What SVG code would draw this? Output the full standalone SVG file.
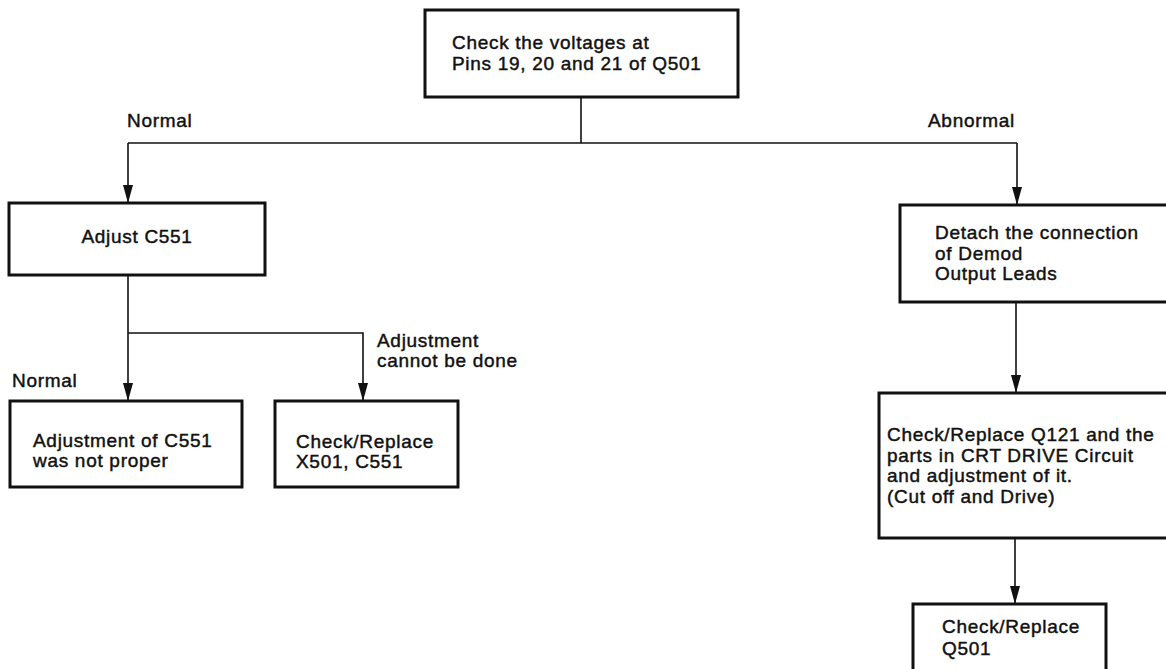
<svg xmlns="http://www.w3.org/2000/svg" width="1166" height="669" viewBox="0 0 1166 669">
<style>
.box{fill:#fff;stroke:#111;stroke-width:3}
.ln{fill:none;stroke:#111;stroke-width:1.6}
text{font-family:"Liberation Sans",Arial,sans-serif;font-size:19px;fill:#111;stroke:#111;stroke-width:0.45;letter-spacing:0.7px}
</style>
<defs>
<marker id="ah" markerUnits="userSpaceOnUse" markerWidth="18" markerHeight="10" refX="18" refY="5" orient="auto">
<path d="M0,0 L18,5 L0,10 Z" fill="#111"/>
</marker>
</defs>
<rect width="1166" height="669" fill="#fff"/>
<g id="connectors">
<path class="ln" d="M581 97 V143"/>
<path class="ln" d="M128 143 H1017"/>
<path class="ln" d="M128 143 V203" marker-end="url(#ah)"/>
<path class="ln" d="M1017 143 V205" marker-end="url(#ah)"/>
<path class="ln" d="M128 275 V401" marker-end="url(#ah)"/>
<path class="ln" d="M128 333 H363 V401" marker-end="url(#ah)"/>
<path class="ln" d="M1016 302 V393" marker-end="url(#ah)"/>
<path class="ln" d="M1015 538 V604" marker-end="url(#ah)"/>
</g>
<g id="labels">
<text x="127" y="127">Normal</text>
<text x="928" y="127">Abnormal</text>
<text x="377" y="347">Adjustment</text>
<text x="377" y="367">cannot be done</text>
<text x="12" y="387">Normal</text>
</g>
<g id="n-check-voltages">
<rect class="box" x="425" y="10" width="313" height="87"/>
<text x="452" y="49">Check the voltages at</text>
<text x="452" y="70">Pins 19, 20 and 21 of Q501</text>
</g>
<g id="n-adjust">
<rect class="box" x="9" y="203" width="256" height="72"/>
<text x="137" y="243" text-anchor="middle">Adjust C551</text>
</g>
<g id="n-not-proper">
<rect class="box" x="10" y="401" width="232" height="86"/>
<text x="33" y="447">Adjustment of C551</text>
<text x="33" y="467">was not proper</text>
</g>
<g id="n-replace-x501">
<rect class="box" x="275" y="401" width="183" height="86"/>
<text x="296" y="448">Check/Replace</text>
<text x="296" y="468">X501, C551</text>
</g>
<g id="n-detach">
<rect class="box" x="900" y="205" width="280" height="97"/>
<text x="935" y="239">Detach the connection</text>
<text x="935" y="260">of Demod</text>
<text x="935" y="280">Output Leads</text>
</g>
<g id="n-crt">
<rect class="box" x="879" y="393" width="300" height="145"/>
<text x="887" y="441">Check/Replace Q121 and the</text>
<text x="887" y="462">parts in CRT DRIVE Circuit</text>
<text x="887" y="482">and adjustment of it.</text>
<text x="887" y="503">(Cut off and Drive)</text>
</g>
<g id="n-q501">
<rect class="box" x="913" y="604" width="193" height="80"/>
<text x="942" y="633">Check/Replace</text>
<text x="942" y="655">Q501</text>
</g>
</svg>
